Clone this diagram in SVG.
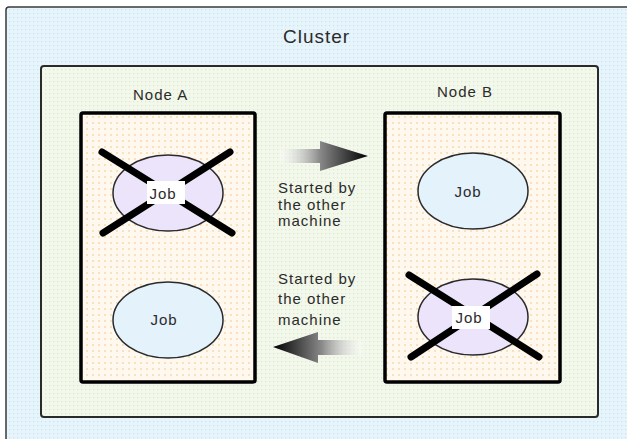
<svg xmlns="http://www.w3.org/2000/svg" width="627" height="439" viewBox="0 0 627 439">
  <defs>
    <pattern id="dotsOuter" width="4" height="4" patternUnits="userSpaceOnUse">
      <rect width="4" height="4" fill="#e6f4fb"/>
      <rect x="1" y="1" width="1.2" height="1.2" fill="#cfe3ef"/>
    </pattern>
    <pattern id="dotsInner" width="4" height="4" patternUnits="userSpaceOnUse">
      <rect width="4" height="4" fill="#f3f8ec"/>
      <rect x="1" y="1" width="1.2" height="1.2" fill="#dde8c4"/>
    </pattern>
    <pattern id="dotsNode" width="6" height="6" patternUnits="userSpaceOnUse">
      <rect width="6" height="6" fill="#fff8ee"/>
      <circle cx="3" cy="3" r="0.9" fill="#f6d7a8"/>
    </pattern>
    <linearGradient id="gradRight" gradientUnits="userSpaceOnUse" x1="280" y1="0" x2="368" y2="0">
      <stop offset="0" stop-color="#ffffff" stop-opacity="0.3"/>
      <stop offset="0.45" stop-color="#8a8a8a"/>
      <stop offset="1" stop-color="#000000"/>
    </linearGradient>
    <linearGradient id="gradLeft" gradientUnits="userSpaceOnUse" x1="362" y1="0" x2="273" y2="0">
      <stop offset="0" stop-color="#ffffff" stop-opacity="0.3"/>
      <stop offset="0.45" stop-color="#8a8a8a"/>
      <stop offset="1" stop-color="#000000"/>
    </linearGradient>
  </defs>
  <style>
    text { font-family: "Liberation Sans", Arial, sans-serif; fill: #2b2b2b; letter-spacing: 1px; }
    .lbl { font-size: 15px; }
    .title { font-size: 19px; }
    .nodebox { fill: url(#dotsNode); stroke: #000; stroke-width: 3.5; }
    .job { stroke: #2a2a2a; stroke-width: 1.5; }
    .ok { fill: #e4f2fc; }
    .fail { fill: #ece4fa; }
    .cross { stroke: #000; stroke-width: 7; stroke-linecap: round; }
  </style>

  <g id="cluster">
    <rect x="6" y="7" width="640" height="460" rx="3" fill="url(#dotsOuter)" stroke="#3a3a3a" stroke-width="1.5"/>
    <text class="title" x="283" y="43">Cluster</text>
    <rect x="41" y="66" width="557" height="351" rx="3" fill="url(#dotsInner)" stroke="#2a2a2a" stroke-width="2"/>
  </g>

  <g id="node-a">
    <text class="lbl" x="133" y="100">Node A</text>
    <rect class="nodebox" x="81" y="113" width="174" height="269" rx="2"/>
  </g>

  <g id="node-b">
    <text class="lbl" x="437" y="97">Node B</text>
    <rect class="nodebox" x="385" y="113" width="175" height="269" rx="2"/>
  </g>

  <g id="job-a-failed">
    <ellipse class="job fail" cx="168" cy="193" rx="55" ry="38"/>
    <line class="cross" x1="102" y1="152" x2="232" y2="233"/>
    <line class="cross" x1="230" y1="152" x2="103" y2="233"/>
    <rect x="147" y="181" width="38" height="23" fill="#ffffff"/>
    <text class="lbl" x="163" y="199" text-anchor="middle">Job</text>
  </g>

  <g id="job-a">
    <ellipse class="job ok" cx="168" cy="320" rx="55" ry="38"/>
    <text class="lbl" x="164" y="325" text-anchor="middle">Job</text>
  </g>

  <g id="job-b">
    <ellipse class="job ok" cx="473" cy="191" rx="55" ry="38"/>
    <text class="lbl" x="468" y="197" text-anchor="middle">Job</text>
  </g>

  <g id="job-b-failed">
    <ellipse class="job fail" cx="473" cy="317" rx="55" ry="38"/>
    <line class="cross" x1="409" y1="275" x2="539" y2="357"/>
    <line class="cross" x1="537" y1="274" x2="411" y2="357"/>
    <rect x="452" y="306" width="38" height="23" fill="#ffffff"/>
    <text class="lbl" x="469" y="323" text-anchor="middle">Job</text>
  </g>

  <g id="connectors">
    <polygon points="280,149 320,149 320,141 368,156 320,171 320,163 280,163" fill="url(#gradRight)"/>
    <text class="lbl" x="278" y="193">Started by</text>
    <text class="lbl" x="278" y="209.5">the other</text>
    <text class="lbl" x="278" y="226">machine</text>
    <text class="lbl" x="278" y="284">Started by</text>
    <text class="lbl" x="278" y="304">the other</text>
    <text class="lbl" x="278" y="325">machine</text>
    <polygon points="362,340 318,340 318,332 273,347 318,363 318,355 362,355" fill="url(#gradLeft)"/>
  </g>
</svg>
